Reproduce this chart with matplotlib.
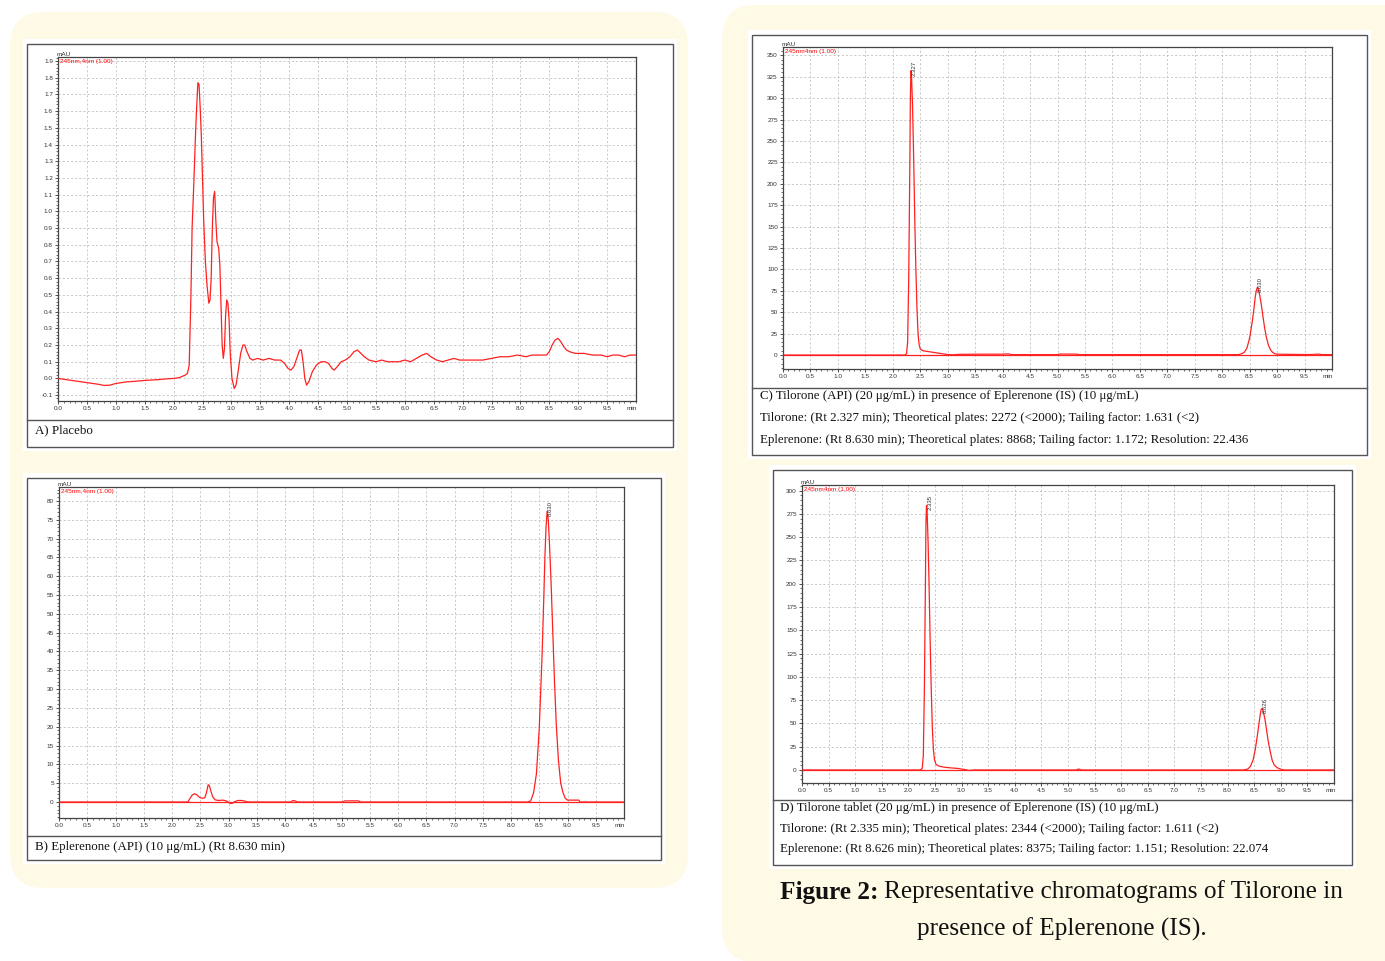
import matplotlib
matplotlib.use('Agg')
import matplotlib.pyplot as plt
from matplotlib.patches import FancyBboxPatch, Rectangle
from matplotlib.ticker import MultipleLocator, FormatStrFormatter, AutoMinorLocator

plt.rcParams['axes.unicode_minus'] = False

# ---------------- data ----------------
X_TICKS = [0.0, 0.5, 1.0, 1.5, 2.0, 2.5, 3.0, 3.5, 4.0, 4.5, 5.0, 5.5, 6.0, 6.5,
           7.0, 7.5, 8.0, 8.5, 9.0, 9.5]

# A) Placebo
A_time = [0.0, 0.1, 0.2, 0.3, 0.4, 0.5, 0.6, 0.7, 0.8, 0.9, 1.0, 1.1, 1.2, 1.3, 1.4,
          1.5, 1.6, 1.7, 1.8, 1.9, 2.0, 2.1, 2.2, 2.24, 2.27, 2.30, 2.32, 2.35,
          2.38, 2.40, 2.42, 2.44, 2.46, 2.48, 2.50, 2.52, 2.55, 2.58, 2.61, 2.63,
          2.65, 2.67, 2.69, 2.71, 2.73, 2.75, 2.78, 2.80, 2.82, 2.84, 2.86, 2.88,
          2.90, 2.92, 2.94, 2.96, 2.98, 3.01, 3.05, 3.08, 3.12, 3.16, 3.20, 3.23,
          3.27, 3.32, 3.37, 3.45, 3.55, 3.65, 3.75, 3.85, 3.92, 3.98, 4.03, 4.08,
          4.13, 4.18, 4.21, 4.24, 4.27, 4.30, 4.34, 4.40, 4.47, 4.55, 4.62, 4.68,
          4.74, 4.78, 4.83, 4.90, 4.97, 5.05, 5.12, 5.18, 5.24, 5.30, 5.38, 5.5,
          5.6, 5.7, 5.8, 5.9, 6.0, 6.1, 6.2, 6.3, 6.38, 6.45, 6.55, 6.65, 6.75,
          6.85, 6.95, 7.05, 7.2, 7.35, 7.5, 7.65, 7.8, 7.95, 8.1, 8.2, 8.3, 8.45,
          8.5, 8.55, 8.6, 8.65, 8.7, 8.75, 8.8, 8.85, 8.95, 9.1, 9.25, 9.4, 9.5,
          9.6, 9.7, 9.8, 9.9, 10.0]
A_val = [0.0, -0.005, -0.01, -0.015, -0.02, -0.025, -0.03, -0.035, -0.042, -0.04,
         -0.03, -0.025, -0.02, -0.018, -0.015, -0.012, -0.01, -0.008, -0.005, -0.002,
         0.0, 0.005, 0.02, 0.03, 0.08, 0.5, 0.9, 1.17, 1.47, 1.63, 1.77, 1.76,
         1.62, 1.45, 1.2, 0.95, 0.7, 0.55, 0.45, 0.47, 0.6, 0.9, 1.08, 1.12, 0.95,
         0.82, 0.78, 0.68, 0.45, 0.2, 0.12, 0.18, 0.38, 0.47, 0.45, 0.35, 0.15, 0.0,
         -0.06, -0.04, 0.05, 0.15, 0.2, 0.2, 0.16, 0.12, 0.11, 0.12, 0.11, 0.12,
         0.11, 0.11, 0.09, 0.06, 0.05, 0.07, 0.12, 0.17, 0.17, 0.1, 0.0, -0.04,
         -0.02, 0.04, 0.08, 0.1, 0.1, 0.09, 0.06, 0.05, 0.07, 0.1, 0.11, 0.13, 0.16,
         0.17, 0.15, 0.13, 0.11, 0.1, 0.11, 0.1, 0.1, 0.1, 0.11, 0.1, 0.12, 0.14,
         0.15, 0.13, 0.11, 0.1, 0.11, 0.12, 0.11, 0.11, 0.11, 0.11, 0.12, 0.13, 0.13,
         0.14, 0.13, 0.14, 0.14, 0.14, 0.16, 0.2, 0.23, 0.24, 0.22, 0.19, 0.17, 0.16,
         0.15, 0.15, 0.14, 0.14, 0.13, 0.14, 0.14, 0.13, 0.14, 0.14]

# B) Eplerenone (API)
B_time = [0.0, 2.28, 2.32, 2.36, 2.40, 2.44, 2.48, 2.53, 2.58, 2.61, 2.64, 2.66,
          2.69, 2.72, 2.76, 2.82, 2.90, 2.96, 3.02, 3.06, 3.10, 3.16, 3.24, 3.30,
          3.34, 4.10, 4.14, 4.18, 4.22, 5.02, 5.06, 5.30, 5.34, 8.30, 8.35, 8.40,
          8.45, 8.50, 8.55, 8.58, 8.60, 8.62, 8.64, 8.66, 8.68, 8.71, 8.74, 8.77,
          8.80, 8.84, 8.88, 8.92, 8.96, 9.00, 9.20, 9.22, 10.0]
B_val = [0.0, 0.0, 1.0, 1.9, 2.2, 1.9, 1.3, 1.0, 1.1, 2.5, 4.6, 4.4, 2.8, 1.4, 0.6,
         0.4, 0.5, 0.3, -0.3, -0.4, 0.0, 0.4, 0.4, 0.2, 0.0, 0.0, 0.4, 0.3, 0.0, 0.0,
         0.3, 0.3, 0.0, 0.0, 0.3, 2.5, 7.5, 19.5, 39.0, 54.0, 65.0, 73.0, 77.3, 75.0,
         69.0, 58.0, 45.0, 32.0, 21.0, 11.0, 5.0, 2.5, 1.0, 0.5, 0.5, 0.0, 0.0]

# C) Tilorone (API) + Eplerenone (IS)
C_time = [0.0, 2.22, 2.25, 2.27, 2.29, 2.31, 2.32, 2.33, 2.34, 2.36, 2.38, 2.40,
          2.42, 2.44, 2.46, 2.48, 2.50, 2.55, 2.60, 2.70, 2.80, 2.90, 3.00, 3.10,
          3.20, 3.60, 4.00, 4.05, 4.12, 4.15, 5.00, 5.05, 5.35, 5.40, 8.30, 8.35,
          8.40, 8.45, 8.50, 8.55, 8.58, 8.60, 8.62, 8.64, 8.66, 8.68, 8.71, 8.74,
          8.77, 8.80, 8.84, 8.88, 8.92, 8.96, 9.00, 9.20, 9.50, 9.65, 9.70, 9.78,
          9.80, 10.0]
C_val = [0.0, 0.0, 1.5, 15.0, 90.0, 220.0, 300.0, 332.0, 328.0, 290.0, 230.0, 160.0,
         100.0, 55.0, 25.0, 12.0, 7.0, 5.0, 4.5, 3.5, 2.5, 1.5, 0.6, 0.3, 0.8, 1.0,
         1.0, 1.3, 1.3, 0.5, 0.5, 1.2, 1.0, 0.5, 0.5, 1.5, 3.0, 8.0, 20.0, 40.0, 55.0,
         67.0, 75.0, 79.0, 77.0, 71.0, 60.0, 46.0, 33.0, 22.0, 12.0, 6.0, 3.0, 1.5,
         1.0, 0.8, 0.6, 0.6, 1.0, 1.0, 0.5, 0.5]

# D) Tilorone tablet + Eplerenone (IS)
D_time = [0.0, 2.22, 2.26, 2.28, 2.30, 2.32, 2.33, 2.34, 2.35, 2.37, 2.39, 2.41,
          2.43, 2.45, 2.47, 2.49, 2.52, 2.56, 2.62, 2.70, 2.80, 2.90, 3.00, 3.08,
          3.13, 3.18, 3.25, 5.15, 5.20, 5.25, 8.30, 8.38, 8.43, 8.48, 8.52, 8.56,
          8.59, 8.61, 8.63, 8.65, 8.67, 8.70, 8.73, 8.76, 8.80, 8.84, 8.88, 8.93,
          8.98, 9.03, 9.06, 10.0]
D_val = [0.0, 0.0, 1.5, 15.0, 85.0, 200.0, 265.0, 284.0, 280.0, 245.0, 195.0, 135.0,
         85.0, 45.0, 22.0, 11.0, 6.0, 4.5, 3.5, 2.8, 2.2, 1.8, 1.0, 0.3, -0.5, -0.3,
         0.0, 0.0, 1.0, 0.0, 0.0, 1.0, 4.0, 11.0, 22.0, 37.0, 50.0, 58.0, 65.0, 66.0,
         63.0, 55.0, 44.0, 32.0, 20.0, 10.0, 5.0, 2.5, 1.2, 0.3, 0.0, 0.0]

PEAKS_B = [(8.64, 77.3, '8.630')]
PEAKS_C = [(2.33, 332.0, '2.327'), (8.64, 79.0, '8.630')]
PEAKS_D = [(2.34, 284.0, '2.335'), (8.65, 66.0, '8.626')]

CAP_A = ['A) Placebo']
CAP_B = ['B) Eplerenone (API) (10 μg/mL) (Rt 8.630 min)']
CAP_C = ['C) Tilorone (API) (20 μg/mL) in presence of Eplerenone (IS) (10 μg/mL)',
         'Tilorone: (Rt 2.327 min); Theoretical plates: 2272 (<2000); Tailing factor: 1.631 (<2)',
         'Eplerenone: (Rt 8.630 min); Theoretical plates: 8868; Tailing factor: 1.172; Resolution: 22.436']
CAP_D = ['D) Tilorone tablet (20 μg/mL) in presence of Eplerenone (IS) (10 μg/mL)',
         'Tilorone: (Rt 2.335 min); Theoretical plates: 2344 (<2000); Tailing factor: 1.611 (<2)',
         'Eplerenone: (Rt 8.626 min); Theoretical plates: 8375; Tailing factor: 1.151; Resolution: 22.074']

# ---------------- figure ----------------
W, H = 1385, 961
fig = plt.figure(figsize=(W / 100, H / 100), dpi=100)
fig.patch.set_facecolor('white')

bg = fig.add_axes([0, 0, 1, 1])
bg.set_xlim(0, W)
bg.set_ylim(H, 0)
bg.axis('off')

CREAM = '#FEFAE6'
bg.add_patch(FancyBboxPatch((10, 12), 678, 876, boxstyle='round,pad=0,rounding_size=34',
                            fc=CREAM, ec='none'))
bg.add_patch(FancyBboxPatch((722, 5), 720, 957, boxstyle='round,pad=0,rounding_size=34',
                            fc=CREAM, ec='none'))

FRAME = '#555555'
SERIF = ['Liberation Serif', 'DejaVu Serif']
SANS = ['Liberation Sans', 'DejaVu Sans']


def frame(x0, y0, x1, y1, sep, caps, cap_x, cap_y):
    bg.add_patch(Rectangle((x0 - 4, y0 - 5), x1 - x0 + 8, y1 - y0 + 9, fc='white', ec='none'))
    bg.add_patch(Rectangle((x0, y0), x1 - x0, y1 - y0, fc='none', ec=FRAME, lw=1.0))
    bg.plot([x0, x1], [sep, sep], color=FRAME, lw=1.0)
    for t, yy in zip(caps, cap_y):
        bg.text(cap_x, yy, t, ha='left', va='center', fontsize=9.3, family=SERIF, color='#111111')


frame(27, 44, 673, 447, 420, CAP_A, 35, [430])
frame(27, 478, 661, 860, 836, CAP_B, 35, [847])
frame(752, 35, 1367, 455, 388, CAP_C, 760, [396, 418, 440])
frame(773, 470, 1352, 865, 800, CAP_D, 780, [808, 829, 849])


def px_axes(x0, y0, x1, y1):
    return fig.add_axes([x0 / W, 1 - y1 / H, (x1 - x0) / W, (y1 - y0) / H])


def chart(box, t, v, ylim, ymajor, yfmt, chan, peaks, zero_line):
    ax = px_axes(*box)
    ax.set_facecolor('white')
    ax.set_xlim(0, 10)
    ax.set_ylim(*ylim)
    ax.set_xticks(X_TICKS)
    ax.xaxis.set_minor_locator(MultipleLocator(0.1))
    ax.xaxis.set_major_formatter(FormatStrFormatter('%.1f'))
    ax.yaxis.set_major_locator(MultipleLocator(ymajor))
    ax.yaxis.set_minor_locator(AutoMinorLocator(5))
    ax.yaxis.set_major_formatter(FormatStrFormatter(yfmt))
    ax.tick_params(which='major', length=2.5, width=0.6, labelsize=4.6, pad=1.2,
                   colors='#333333')
    ax.tick_params(which='minor', length=1.3, width=0.5, colors='#333333')
    for lab in ax.get_xticklabels() + ax.get_yticklabels():
        lab.set_family(SANS)
    ax.grid(True, which='major', color='#c0c0c0', linestyle=(0, (2.5, 2.5)), linewidth=0.6)
    ax.set_axisbelow(True)
    for s in ax.spines.values():
        s.set_color('#444444')
        s.set_linewidth(0.9)
    if zero_line:
        ax.axhline(0, color='#FF2020', lw=0.9, zorder=2)
    ax.plot(t, v, color='#FF2020', lw=0.9, zorder=3)
    ax.annotate('min', xy=(9.93, 0), xycoords=('data', 'axes fraction'), xytext=(0, -3.7),
                textcoords='offset points', ha='center', va='top', fontsize=4.6,
                family=SANS, color='#333333')
    ax.annotate('mAU', xy=(0, 1), xycoords='axes fraction', xytext=(-1, 0.3),
                textcoords='offset points', ha='left', va='bottom', fontsize=4.6,
                family=SANS, color='#333333')
    ax.text(0.004, 0.993, chan, transform=ax.transAxes, ha='left', va='top',
            fontsize=4.6, family=SANS, color='red')
    span = ylim[1] - ylim[0]
    for px, py, lab in peaks:
        ax.text(px + 0.06, py - 0.015 * span, lab, rotation=90, ha='center', va='bottom',
                fontsize=4.3, family=SANS, color='#333333')
    return ax


chart((58, 57, 636, 401), A_time, A_val, (-0.135, 1.924), 0.1, '%.1f',
      '245nm,4nm (1.00)', [], False)
chart((59, 487, 624, 818), B_time, B_val, (-4.25, 83.7), 5, '%d',
      '245nm,4nm (1.00)', PEAKS_B, True)
chart((783, 47, 1332, 369), C_time, C_val, (-16.3, 359.7), 25, '%d',
      '245nm4nm (1.00)', PEAKS_C, True)
chart((802, 485, 1334, 783), D_time, D_val, (-14.0, 306.0), 25, '%d',
      '245nm4nm (1.00)', PEAKS_D, True)

# figure caption
t1 = bg.text(780, 892, 'Figure 2:', ha='left', va='center', fontsize=18.2, family=SERIF,
             weight='bold', color='#111111')
fig.canvas.draw()
bb = t1.get_window_extent()
x_after = 780 + bb.width + 5
bg.text(x_after, 892, 'Representative chromatograms of Tilorone in', ha='left', va='center',
        fontsize=18.2, family=SERIF, color='#111111')
bg.text(1062, 929, 'presence of Eplerenone (IS).', ha='center', va='center', fontsize=18.2,
        family=SERIF, color='#111111')

fig.savefig('out.png', dpi=100, facecolor='white')
